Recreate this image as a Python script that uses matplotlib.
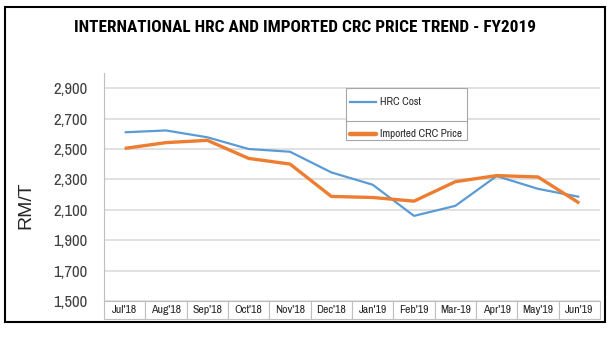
import numpy as np
import matplotlib
matplotlib.use('Agg')
import matplotlib.pyplot as plt
from matplotlib.patches import Rectangle
from matplotlib.lines import Line2D

plt.rcParams['font.family'] = ['Liberation Sans Narrow', 'Arial Narrow', 'Archivo Narrow',
                               'PT Sans Narrow', 'Roboto Condensed', 'Liberation Sans',
                               'DejaVu Sans']

# datos
meses = ["Jul'18", "Aug'18", "Sep'18", "Oct'18", "Nov'18", "Dec'18",
         "Jan'19", "Feb'19", "Mar-19", "Apr'19", "May'19", "Jun'19"]
hrc_cost = [2610, 2622, 2577, 2500, 2482, 2346, 2265, 2060, 2126, 2322, 2238, 2185]
crc_price = [2504, 2542, 2557, 2438, 2401, 2188, 2181, 2157, 2285, 2325, 2316, 2144]
y_ticks = [1500, 1700, 1900, 2100, 2300, 2500, 2700, 2900]

W, H = 614, 346
fig = plt.figure(figsize=(W / 100, H / 100), dpi=100)
ax = fig.add_axes([104 / W, 1 - 301 / H, 496 / W, 228 / H])

x = np.arange(len(meses))
ax.plot(x, hrc_cost, color='#5B9BD5', lw=1.6, solid_capstyle='butt', zorder=3)
ax.plot(x, crc_price, color='#ED7D31', lw=2.4, solid_capstyle='butt', zorder=3)

ax.set_xlim(-0.5, len(meses) - 0.5)
ax.set_ylim(1500, 3000)
ax.set_yticks(y_ticks)
ax.set_yticklabels(['{:,}'.format(v) for v in y_ticks], fontsize=12, color='#404040')
ax.tick_params(axis='y', length=0, pad=12)
ax.set_xticks([])
ax.yaxis.grid(True, color='#D9D9D9', lw=1.1)
ax.set_axisbelow(True)
for s in ['top', 'right', 'bottom']:
    ax.spines[s].set_visible(False)
ax.spines['left'].set_color('#BFBFBF')

# fila de categorias tipo tabla
tabla = ax.table(cellText=[meses], cellLoc='center', bbox=[0, -18 / 228, 1, 18 / 228])
tabla.auto_set_font_size(False)
for cell in tabla.get_celld().values():
    cell.set_edgecolor('#BFBFBF')
    cell.set_linewidth(0.8)
    cell.get_text().set_fontsize(8.5)
    cell.get_text().set_color('#262626')

ax.text(-0.158, 0.42, 'RM/T', transform=ax.transAxes, rotation=90, fontsize=14,
        family=['Liberation Sans', 'DejaVu Sans'], color='#262626',
        ha='center', va='center')

# leyenda estilo excel
lx0, lx1, ly0, ly1 = 346, 467, 88, 140
fig.patches.append(Rectangle((lx0 / W, 1 - ly1 / H), (lx1 - lx0) / W, (ly1 - ly0) / H,
                             transform=fig.transFigure, facecolor='white',
                             edgecolor='#A6A6A6', lw=0.8, zorder=5))
fig.lines.append(Line2D([lx0 / W, lx1 / W], [1 - 121 / H, 1 - 121 / H],
                        transform=fig.transFigure, color='#A6A6A6', lw=0.8, zorder=6))
fig.lines.append(Line2D([350 / W, 376 / W], [1 - 102 / H, 1 - 102 / H],
                        transform=fig.transFigure, color='#5B9BD5', lw=1.6, zorder=6))
fig.lines.append(Line2D([350 / W, 376 / W], [1 - 134 / H, 1 - 134 / H],
                        transform=fig.transFigure, color='#ED7D31', lw=3.2,
                        solid_capstyle='round', zorder=6))
fig.text(380 / W, 1 - 102 / H, 'HRC Cost', fontsize=8, va='center', color='#262626', zorder=7)
fig.text(380 / W, 1 - 134 / H, 'Imported CRC Price', fontsize=8, va='center',
         color='#262626', zorder=7)

fig.text(305 / W, 1 - 27 / H, 'INTERNATIONAL HRC AND IMPORTED CRC PRICE TREND - FY2019',
         fontsize=12.4, fontweight='bold', ha='center', va='center', color='black',
         family=['Roboto Condensed', 'PT Sans Narrow', 'Archivo Narrow',
                 'Liberation Sans Narrow', 'Liberation Sans'])

# marco negro
fig.patches.append(Rectangle((5 / W, 1 - 322 / H), 600 / W, 315 / H,
                             transform=fig.transFigure, fill=False,
                             edgecolor='black', lw=1.5, zorder=10))

fig.savefig('out.png', dpi=100)
